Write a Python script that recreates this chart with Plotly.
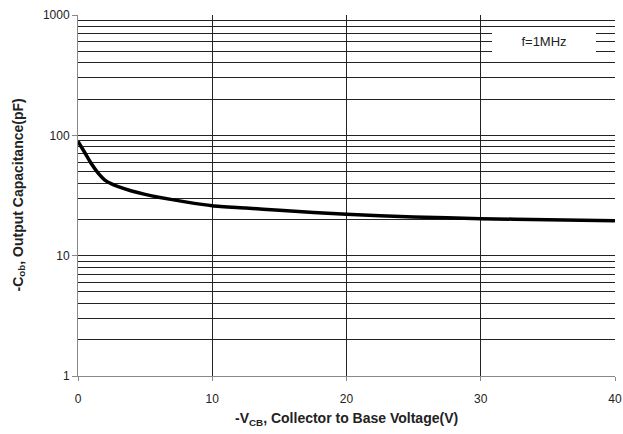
import plotly.graph_objects as go

# Data
vcb = [0, 0.5, 1.0, 1.5, 2.0, 2.5, 3, 4, 5, 6, 8, 10, 12.5, 15, 20, 25, 30, 35, 40]
cob = [89, 72, 58, 48.5, 42.5, 39.5, 37.5, 34.5, 32.3, 30.6, 28, 26, 24.9, 23.8, 22.1, 21, 20.3, 19.9, 19.5]

y_major = [1, 10, 100, 1000]
y_major_text = ["1", "10", "100", "1000"]
x_ticks = [0, 10, 20, 30, 40]

y_minor = [m * d for d in [1, 10, 100] for m in range(2, 10)]

x_title = "<b>-V<sub>CB</sub>, Collector to Base Voltage(V)</b>"
y_title = "<b>-C<sub>ob</sub>, Output Capacitance(pF)</b>"
note_text = "f=1MHz"

fig = go.Figure()
fig.add_trace(go.Scatter(
    x=vcb, y=cob, mode="lines",
    line=dict(color="black", width=3.5, shape="spline", smoothing=0.6),
    showlegend=False, hoverinfo="skip",
))

tick_font = dict(family="Liberation Sans, Arial, sans-serif", size=12, color="#222222")
title_font = dict(family="Liberation Sans, Arial, sans-serif", size=14, color="#222222")

fig.update_layout(
    width=623, height=434,
    margin=dict(l=78, r=8, t=15, b=58),
    paper_bgcolor="white", plot_bgcolor="white",
    xaxis=dict(
        range=[0, 40], tickvals=x_ticks, ticktext=[str(v) for v in x_ticks],
        showgrid=True, gridcolor="#222222", gridwidth=1,
        showline=True, linecolor="#888888", linewidth=1,
        ticks="outside", ticklen=4, tickcolor="#888888",
        ticklabelstandoff=8,
        zeroline=False, tickfont=tick_font, automargin=False,
    ),
    yaxis=dict(
        type="log", range=[0, 3], tickvals=y_major, ticktext=y_major_text,
        showgrid=True, gridcolor="#222222", gridwidth=1,
        showline=True, linecolor="#888888", linewidth=1,
        ticks="outside", ticklen=5, tickcolor="#888888",
        minor=dict(tickmode="array", tickvals=y_minor, showgrid=True,
                   gridcolor="#222222", gridwidth=1, ticks=""),
        zeroline=False, tickfont=tick_font, automargin=False,
    ),
    annotations=[
        dict(xref="paper", yref="paper", x=0.868, y=0.927,
             xanchor="center", yanchor="middle",
             text=note_text, showarrow=False,
             font=dict(family="Liberation Sans, Arial, sans-serif", size=13, color="#222222"),
             bgcolor="white", width=104, height=27, borderpad=0, borderwidth=0),
        dict(xref="paper", yref="paper", x=0.5, y=-(419 - 376) / 361,
             xanchor="center", yanchor="middle", text=x_title, showarrow=False,
             font=title_font),
        dict(xref="paper", yref="paper", x=-(78 - 18) / 537, y=0.5,
             xanchor="center", yanchor="middle", text=y_title, showarrow=False,
             textangle=-90, font=title_font),
    ],
)

fig.write_html("out.html", config={"displayModeBar": False},
               post_script="document.body.style.margin='0';document.body.style.overflow='hidden';")
